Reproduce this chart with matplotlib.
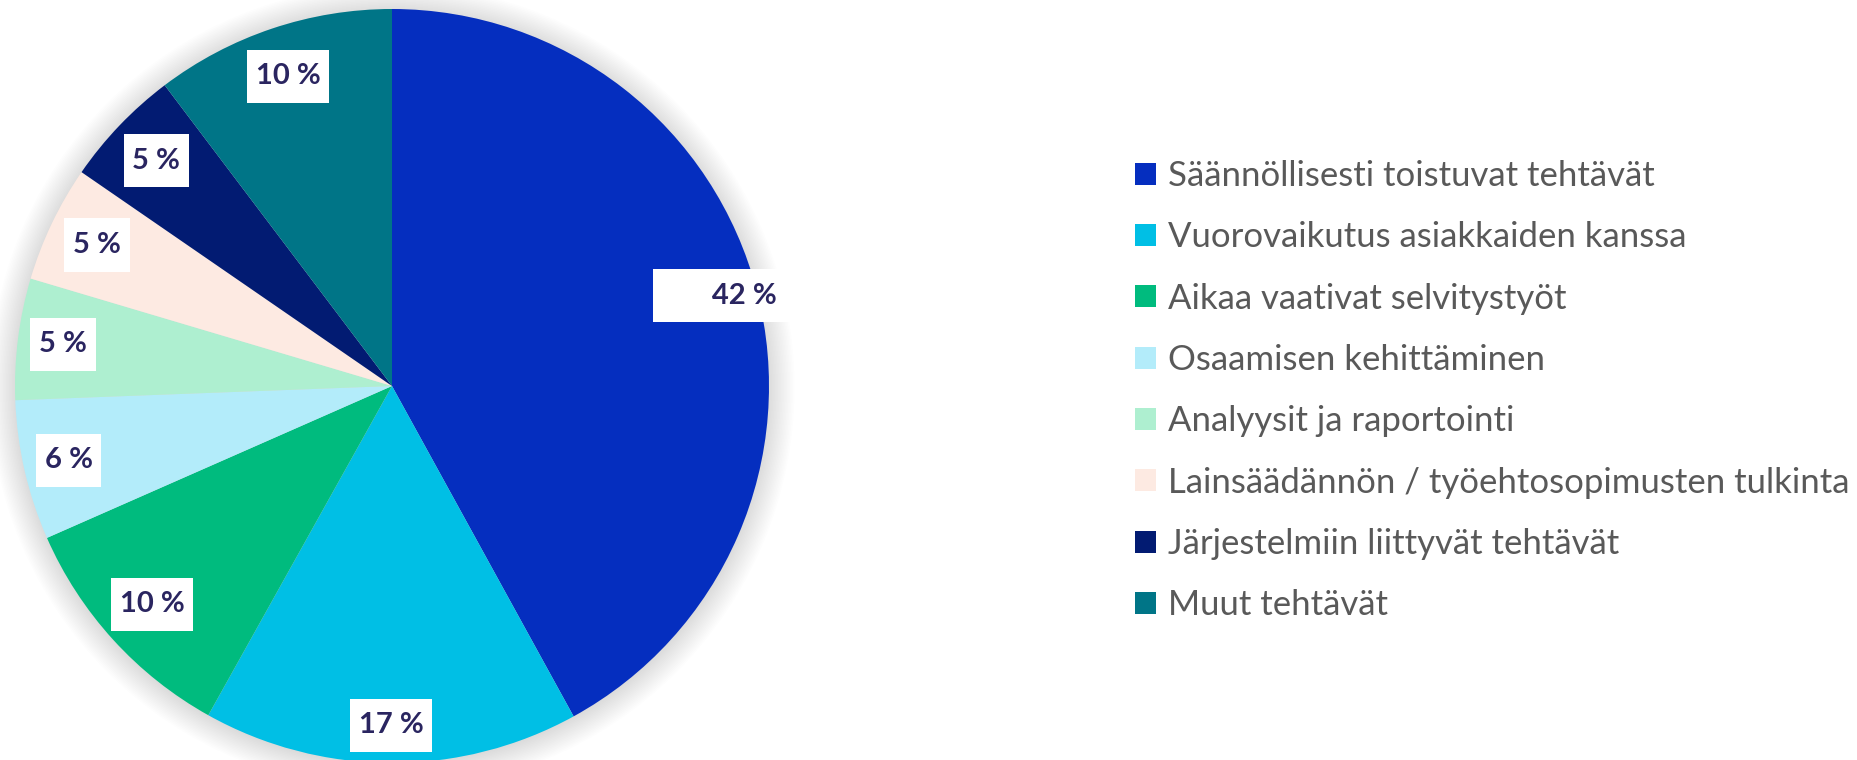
import numpy as np
import matplotlib.pyplot as plt
from matplotlib.patches import Circle, Patch

# -----------------------------------------------------------------------------

categories = ['Säännöllisesti toistuvat tehtävät',
              'Vuorovaikutus asiakkaiden kanssa',
              'Aikaa vaativat selvitystyöt',
              'Osaamisen kehittäminen',
              'Analyysit ja raportointi',
              'Lainsäädännön / työehtosopimusten tulkinta',
              'Järjestelmiin liittyvät tehtävät',
              'Muut tehtävät']
# slice sizes as drawn, and the printed (rounded) labels
shares = [42.0, 16.1, 10.3, 6.0, 5.2, 5.0, 5.1, 10.3]
pct_labels = [42, 17, 10, 6, 5, 5, 5, 10]

colors = ['#052EBF', '#00BFE5', '#00BB7E', '#B3ECFA',
          '#AEEFD0', '#FDEAE2', '#021B72', '#007587']
label_dist = [0.965, 0.90, 0.86, 0.88, 0.88, 0.867, 0.865, 0.866]

# -----------------------------------------------------------------------------

W, H = 1858, 760
cx, cy, r_px = 392, 374, 377
half = 1.08

fig = plt.figure(figsize=(W / 100, H / 100), dpi=100)
ax = fig.add_axes([(cx - r_px * half) / W, (cy - r_px * half) / H,
                   2 * r_px * half / W, 2 * r_px * half / H])

# soft shadow round the pie
for i in range(18):
    ax.add_patch(Circle((0, -0.004), 1.0 + i * 0.004, color='black',
                        alpha=0.008, lw=0, zorder=0, clip_on=False))

wedges, _ = ax.pie(shares, colors=colors, startangle=90, counterclock=False,
                   radius=1, wedgeprops=dict(linewidth=0, zorder=2))
for w in wedges:
    w.set_clip_on(False)

ax.set_xlim(-half, half)
ax.set_ylim(-half, half)
ax.axis('off')

for w, v, d in zip(wedges, pct_labels, label_dist):
    t = np.deg2rad((w.theta1 + w.theta2) / 2)
    s = f'{v} %'
    if v == 42:
        s = '       ' + s + '       '
    ax.text(d * np.cos(t), d * np.sin(t), s, ha='center', va='center',
            fontsize=21, fontweight='bold', color='#2A2560', family='Lato',
            zorder=5,
            bbox=dict(boxstyle='square,pad=0.3', fc='white', ec='none',
                      mutation_aspect=1.55))

handles = [Patch(facecolor=c, edgecolor='none') for c in colors]
fig.legend(handles, categories, loc='upper left',
           bbox_to_anchor=(1135 / W, 1 - 160 / H), frameon=False,
           prop={'family': 'Lato', 'size': 25},
           labelcolor='#595959', handlelength=0.6, handleheight=0.6,
           handletextpad=0.35, labelspacing=0.845, borderpad=0,
           borderaxespad=0)

fig.savefig('out.png', dpi=100)
